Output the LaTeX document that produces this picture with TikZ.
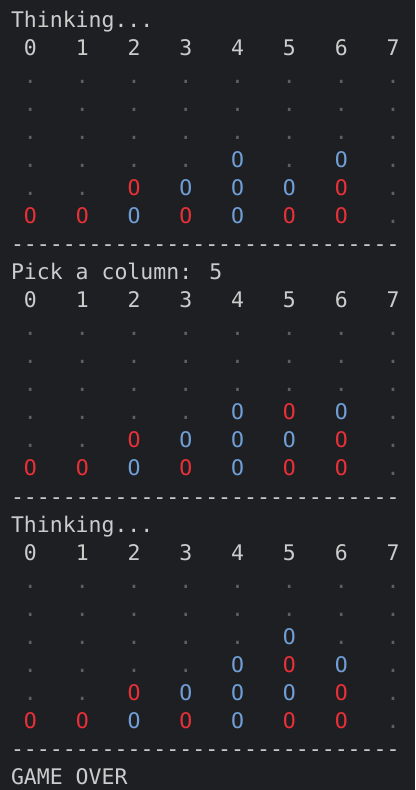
\documentclass[tikz,border=0pt]{standalone}
\usepackage{fontspec}
\newfontfamily\termfont{DejaVu Sans Mono}[Ligatures=NoCommon]
\definecolor{termbg}{RGB}{30,31,34}
\definecolor{termfg}{RGB}{204,204,204}
\definecolor{termred}{RGB}{232,48,56}
\definecolor{termblue}{RGB}{111,159,214}
\definecolor{termdot}{RGB}{95,95,95}
\newcommand\cellx[1]{11+(#1+0.5)*12.95}
\newcommand\liney[1]{27.5+28.03*#1}
\tikzset{
  glyph/.style={anchor=base,inner sep=0pt,outer sep=0pt,font=\termfont\fontsize{21.5bp}{28bp}\selectfont,text=termfg},
  txt/.style={glyph,anchor=base west},
  pd/.style={glyph,text=termdot},
  pr/.style={glyph,text=termred},
  pb/.style={glyph,text=termblue},
}
\def\tpd{.}\def\tpr{O}\def\tpb{O}
\newcommand\boardrow[2]{%
  \foreach \v [count=\c from 0] in {#2} {%
    \pgfmathsetmacro\xx{\cellx{1+4*\c}}%
    \pgfmathsetmacro\yy{\liney{#1}}%
    \node[p\v] (g-#1-\c) at (\xx,\yy) {\csname tp\v\endcsname};
  }%
}
\newcommand\digitrow[1]{%
  \foreach \c in {0,...,7} {%
    \pgfmathsetmacro\xx{\cellx{1+4*\c}}%
    \pgfmathsetmacro\yy{\liney{#1}}%
    \node[glyph] (n-#1-\c) at (\xx,\yy) {\c};
  }%
}
\newcommand\dashrow[1]{%
  \foreach \c in {0,...,29} {%
    \pgfmathsetmacro\xx{\cellx{\c}}%
    \pgfmathsetmacro\yy{\liney{#1}}%
    \node[glyph] (h-#1-\c) at (\xx,\yy) {-};
  }%
}
\begin{document}
\begin{tikzpicture}[x=1bp,y=-1bp]
\fill[termbg] (0,0) rectangle (415,790);
\useasboundingbox (0,0) rectangle (415,790);
% block 1
\node[txt] (think1) at (11,{\liney{0}}) {Thinking...};
\digitrow{1}
\boardrow{2}{d,d,d,d,d,d,d,d}
\boardrow{3}{d,d,d,d,d,d,d,d}
\boardrow{4}{d,d,d,d,d,d,d,d}
\boardrow{5}{d,d,d,d,b,d,b,d}
\boardrow{6}{d,d,r,b,b,b,r,d}
\boardrow{7}{r,r,b,r,b,r,r,d}
\dashrow{8}
% block 2
\node[txt] (pick) at (11,{\liney{9}}) {Pick a column: 5};
\digitrow{10}
\boardrow{11}{d,d,d,d,d,d,d,d}
\boardrow{12}{d,d,d,d,d,d,d,d}
\boardrow{13}{d,d,d,d,d,d,d,d}
\boardrow{14}{d,d,d,d,b,r,b,d}
\boardrow{15}{d,d,r,b,b,b,r,d}
\boardrow{16}{r,r,b,r,b,r,r,d}
\dashrow{17}
% block 3
\node[txt] (think2) at (11,{\liney{18}}) {Thinking...};
\digitrow{19}
\boardrow{20}{d,d,d,d,d,d,d,d}
\boardrow{21}{d,d,d,d,d,d,d,d}
\boardrow{22}{d,d,d,d,d,b,d,d}
\boardrow{23}{d,d,d,d,b,r,b,d}
\boardrow{24}{d,d,r,b,b,b,r,d}
\boardrow{25}{r,r,b,r,b,r,r,d}
\dashrow{26}
\node[txt] (over) at (11,{\liney{27}}) {GAME OVER};
\end{tikzpicture}
\end{document}
